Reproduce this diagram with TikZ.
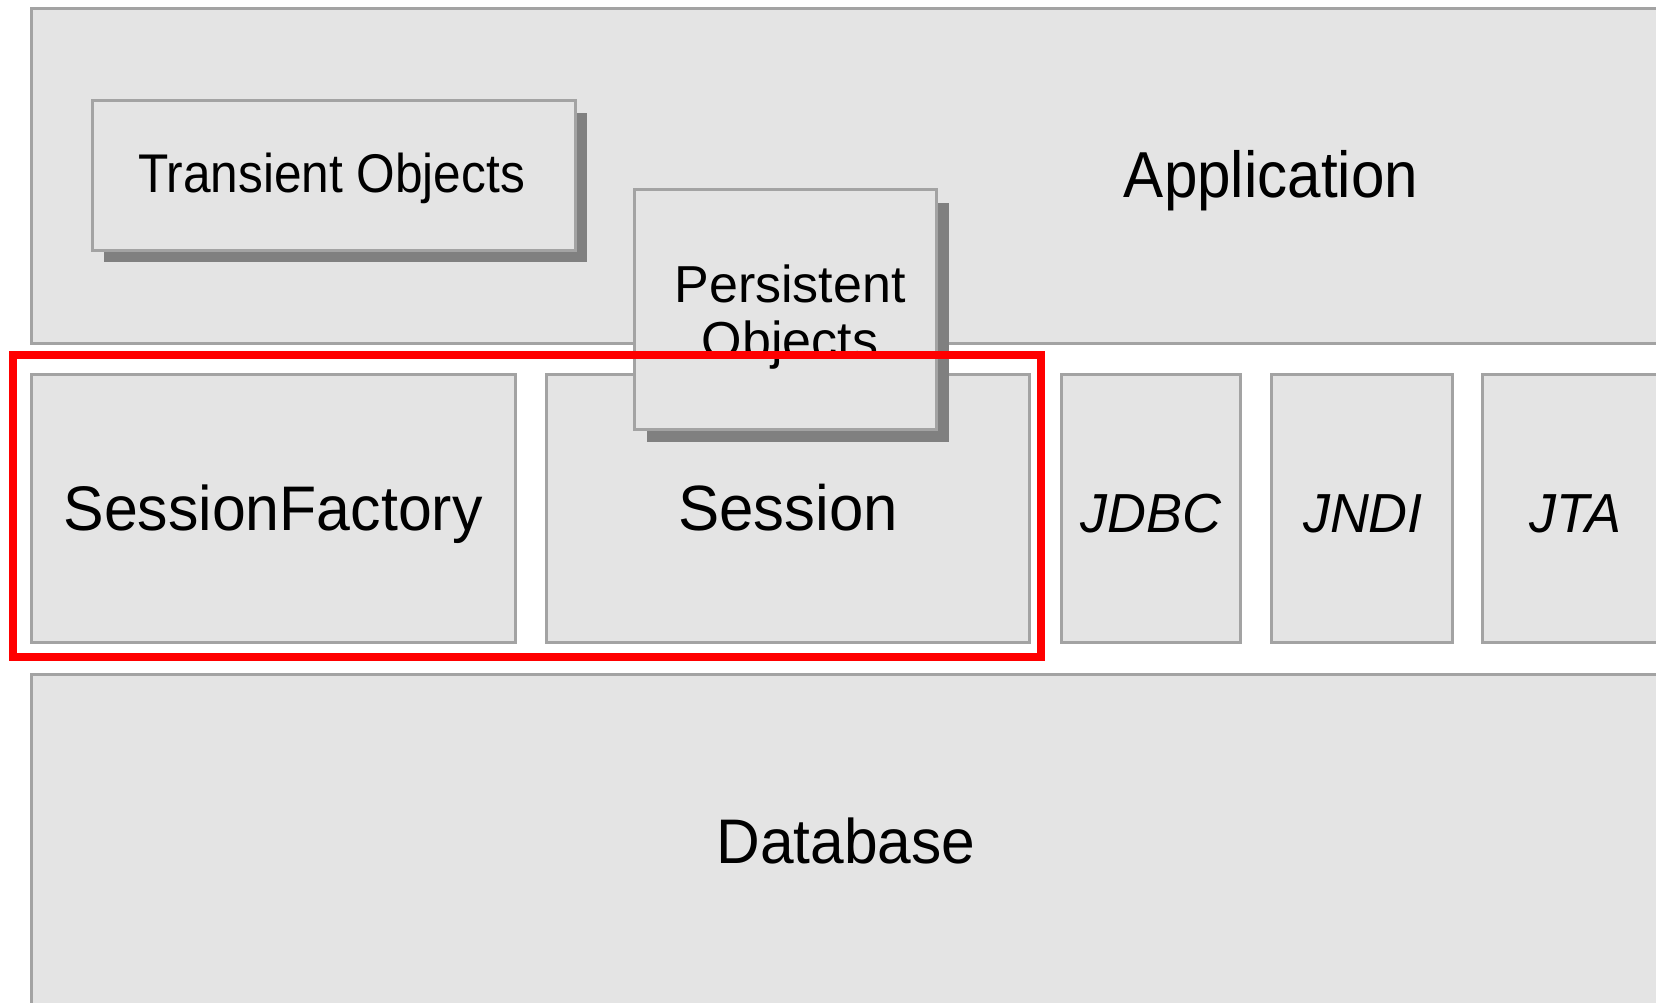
\documentclass[tikz,border=0pt]{standalone}
\usepackage{fontspec}
\setmainfont{Liberation Sans}
\usetikzlibrary{shadows}
\definecolor{boxfill}{HTML}{E4E4E4}
\definecolor{boxline}{HTML}{A3A3A3}
\definecolor{shade}{HTML}{808080}
\definecolor{redline}{HTML}{FF0000}
\newcommand{\lbl}[3]{\scalebox{#2}[1]{\fontsize{#1}{#1}\selectfont #3}}
\begin{document}
\begin{tikzpicture}[x=1pt,y=-1pt,
  panel/.style={draw=boxline, line width=3pt, fill=boxfill, rectangle, inner sep=0pt, outer sep=0pt},
  shadowed/.style={general shadow={fill=shade, shadow xshift=#1, shadow yshift=-#1}},
  txt/.style={anchor=base, inner sep=0pt, outer sep=0pt, text=black},
  frame/.style={draw=redline, line width=8pt, rectangle, inner sep=0pt, outer sep=0pt}]
\useasboundingbox (0,0) rectangle (1656,1003);
\clip (0,0) rectangle (1656,1003);
\fill[white] (0,0) rectangle (1656,1003);

% Application layer
\node[panel, minimum width=1669pt, minimum height=334pt] (app) at (865.5,176) {};
\node[txt] (apptxt) at (1271,197) {\lbl{65}{0.925}{Application}};

% Transient objects
\node[panel, shadowed=12pt, minimum width=483pt, minimum height=149pt] (trans) at (333.5,175.5) {};
\node[txt] (transtxt) at (331.5,193) {\lbl{54.5}{0.91}{Transient Objects}};

% middle row
\node[panel, minimum width=484pt, minimum height=268pt] (sf) at (273,508) {};
\node[txt] (sftxt) at (273,530) {\lbl{63}{0.965}{SessionFactory}};
\node[panel, minimum width=483pt, minimum height=268pt] (sess) at (787.5,508) {};
\node[txt] (sesstxt) at (788,530) {\lbl{64}{0.965}{Session}};
\node[panel, minimum width=179pt, minimum height=268pt] (jdbc) at (1150.5,508) {};
\node[txt] (jdbctxt) at (1151,532) {\lbl{55}{0.98}{\itshape JDBC}};
\node[panel, minimum width=181pt, minimum height=268pt] (jndi) at (1361.5,508) {};
\node[txt] (jnditxt) at (1363,532) {\lbl{55}{0.98}{\itshape JNDI}};
\node[panel, minimum width=181pt, minimum height=268pt] (jta) at (1572.5,508) {};
\node[txt] (jtatxt) at (1575,532) {\lbl{55}{0.98}{\itshape JTA}};

% Database
\node[panel, minimum width=1669pt, minimum height=426pt] (db) at (865.5,887) {};
\node[txt] (dbtxt) at (846,863) {\lbl{63}{0.96}{Database}};

% Persistent objects (overlapping)
\node[panel, shadowed=13pt, minimum width=302pt, minimum height=239pt] (pers) at (785,309.5) {};
\node[txt, align=center, font=\fontsize{52}{56}\selectfont] (perstxt) at (790,358) {Persistent\\Objects};

% red highlight frame
\node[frame, minimum width=1028pt, minimum height=302pt] (hl) at (527,506) {};
\end{tikzpicture}
\end{document}
